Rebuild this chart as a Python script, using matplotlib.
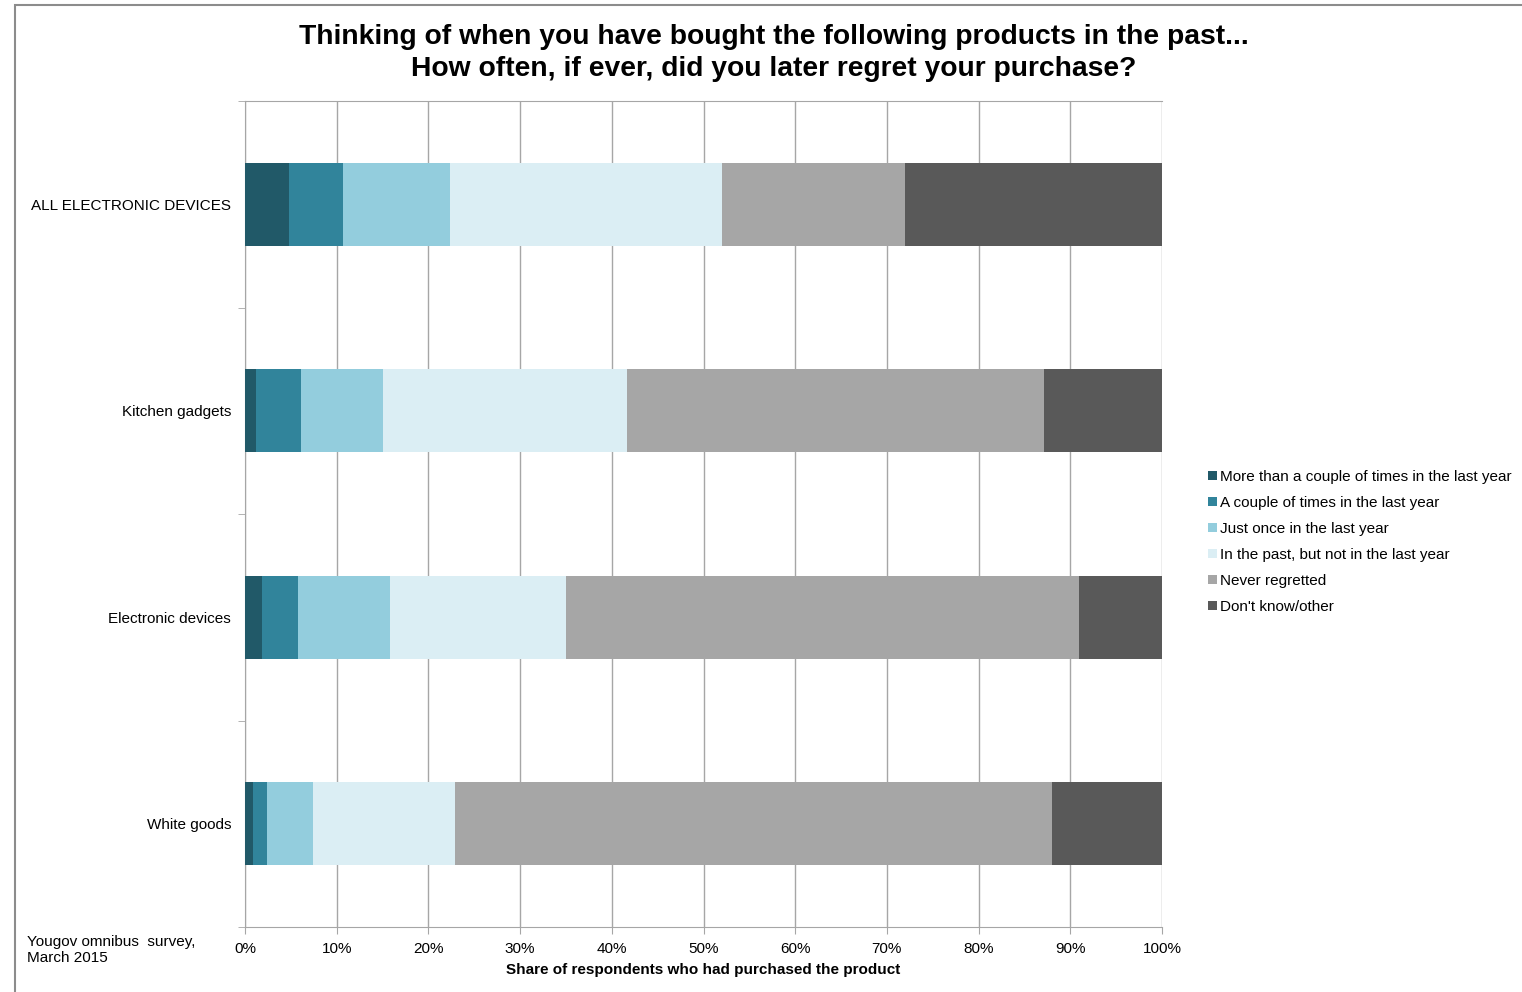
import matplotlib.pyplot as plt
import numpy as np
from matplotlib.patches import Rectangle
from matplotlib.ticker import MultipleLocator, PercentFormatter

plt.rcParams['font.family'] = ['Liberation Sans', 'DejaVu Sans']

# Products, top to bottom
products = ['ALL ELECTRONIC DEVICES', 'Kitchen gadgets', 'Electronic devices', 'White goods']

answers = ['More than a couple of times in the last year',
           'A couple of times in the last year',
           'Just once in the last year',
           'In the past, but not in the last year',
           'Never regretted',
           "Don't know/other"]

# Share of respondents (%) per answer, one value per product
more_than_couple = [4.8, 1.2, 1.9, 0.9]
couple_times = [5.9, 4.9, 3.9, 1.5]
just_once = [11.7, 8.9, 10.0, 5.0]
past_not_last_year = [29.6, 26.7, 19.2, 15.5]
never_regretted = [20.0, 45.4, 55.9, 65.1]
dont_know = [28.0, 12.9, 9.1, 12.0]

colors = ['#215968', '#31849B', '#93CDDD', '#DBEEF4', '#A6A6A6', '#595959']

series = [more_than_couple, couple_times, just_once,
          past_not_last_year, never_regretted, dont_know]

fig = plt.figure(figsize=(15.22, 9.92), dpi=100)
ax = fig.add_axes([245 / 1522, 1 - 927 / 992, (1162 - 245) / 1522, (927 - 101) / 992])

ypos = np.arange(len(products))
left = np.zeros(len(products))
for vals, col, lab in zip(series, colors, answers):
    ax.barh(ypos, vals, left=left, height=0.4, color=col, label=lab, zorder=3)
    left += np.array(vals)

ax.set_xlim(0, 100)
ax.set_ylim(len(products) - 0.5, -0.5)
ax.xaxis.set_major_locator(MultipleLocator(10))
ax.xaxis.set_major_formatter(PercentFormatter(decimals=0))
ax.grid(axis='x', color='#A6A6A6', linewidth=1, zorder=0)

# category labels on the left, tick marks between categories
ax.set_yticks(ypos)
ax.set_yticklabels(products, fontsize=11)
ax.tick_params(axis='y', length=0, pad=10)
ax.set_yticks(np.arange(-0.5, len(products), 1), minor=True)
ax.tick_params(axis='y', which='minor', length=5, color='#A6A6A6', direction='out')
ax.tick_params(axis='x', labelsize=11, length=5, color='#A6A6A6', pad=6)

for side in ['top', 'bottom', 'left']:
    ax.spines[side].set_color('#A6A6A6')
ax.spines['right'].set_visible(False)

ax.set_xlabel('Share of respondents who had purchased the product',
              fontsize=11, fontweight='bold', labelpad=5)

fig.suptitle('Thinking of when you have bought the following products in the past...\n'
             'How often, if ever, did you later regret your purchase?',
             x=774 / 1522, y=1 - 24 / 992, fontsize=20.3, fontweight='bold', linespacing=1.3)

fig.text(27 / 1522, 1 - 950 / 992, 'Yougov omnibus  survey,\nMarch 2015',
         fontsize=11, va='center', ha='left', linespacing=1.2)

leg = fig.legend(loc='upper left', bbox_to_anchor=(1202 / 1522, 1 - 464 / 992),
                 frameon=False, fontsize=11, handlelength=0.55, handleheight=0.55,
                 handletextpad=0.25, labelspacing=0.78, borderaxespad=0)

# outer chart frame
fig.patches.append(Rectangle((15 / 1522, -0.01), 2, 1 - 5 / 992 + 0.01,
                             transform=fig.transFigure, fill=False,
                             edgecolor='#8C8C8C', linewidth=1.5))

fig.savefig('out.png', dpi=100)
